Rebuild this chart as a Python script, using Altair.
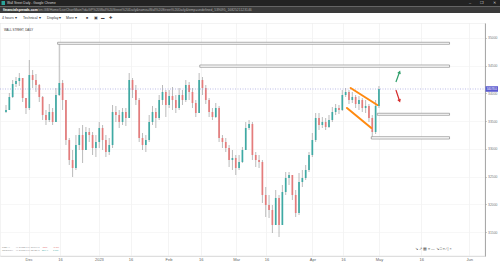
import altair as alt
import pandas as pd

# ---- data (Wall Street, daily candles) ----
first_open = 33664
close = [33700,33934,34168,34222,34276,33916,33736,34330,34240,34150,
         33934,33610,33520,33664,33484,33970,34186,33880,33160,32800,
         32656,33070,33250,32980,33304,33250,33016,33124,33376,33160,
         32944,33070,33664,33610,33484,33664,33556,34240,34060,33880,
         33196,33070,33160,33484,33664,33556,33880,34024,33790,33952,
         33880,33736,33970,33880,34150,34024,33826,33646,34240,34096,
         33880,33664,33574,33736,33196,33124,33016,32800,32836,32656,
         32764,32980,33376,33448,32890,32800,32764,32170,31990,31900,
         31630,32116,31630,32224,32476,32530,32170,31846,32404,32476,
         32620,32890,33160,33556,33430,33484,33394,33520,33664,33736,
         33700,33970,34024,33880,33934,33808,33880,33736,33772,33556,
         33304,33772,34078]
high = [33790,34006,34240,34294,34366,34240,33916,34600,34420,34348,
        34168,33952,33700,33808,33736,34096,34906,34240,33880,33196,
        32980,33250,33376,33430,33394,33376,33304,33250,33484,33430,
        33250,33196,33790,33772,33700,33736,33736,34366,34276,34150,
        33916,33286,33250,33610,33772,33736,33970,34150,34060,34060,
        34114,33970,34096,34060,34240,34204,34096,33880,34366,34294,
        34150,33916,33736,33826,33772,33250,33196,33070,32980,32890,
        32890,33034,33484,33520,33484,32944,32890,32800,32314,32170,
        31990,32260,32170,32350,32584,32584,32530,32260,32566,32620,
        32710,32944,33286,33646,33646,33574,33556,33610,33754,33808,
        33790,34060,34096,34060,34024,33970,33952,33916,33880,33808,
        33610,33880,34132]
low = [33646,33736,33916,34114,34132,33844,33628,33700,34096,34024,
       33844,33520,33430,33484,33430,33484,33952,33700,33070,32710,
       32494,32620,32980,32746,32980,33124,32890,32854,33016,32980,
       32854,32890,33016,33484,33376,33430,33412,33556,33916,33790,
       33124,32980,32944,33124,33430,33376,33520,33790,33574,33736,
       33700,33646,33700,33790,33844,33880,33736,33574,33664,33970,
       33808,33574,33520,33556,33124,33016,32944,32674,32620,32530,
       32620,32746,32980,33340,32800,32674,32656,32026,31774,31756,
       31486,31630,31414,31630,32170,32350,32080,31774,31810,32314,
       32440,32584,32854,33124,33340,33376,33340,33376,33484,33610,
       33628,33682,33934,33808,33826,33736,33700,33664,33646,33484,
       33196,33268,33736]

tick_pos = [6.8, 16.2, 27.9, 37.4, 48.8, 58.5, 69.1, 78.2, 92, 101.2, 112, 124.7, 139.1]
tick_labels = ["Dec", "16", "2023", "16", "Feb", "16", "Mar", "16", "Apr", "16", "May", "16", "Jun"]
price_ticks = [31500, 32000, 32500, 33000, 33500, 34000, 34500, 35000]

# support / resistance zones
zone_start = [15.5, 58.2, 111.5, 109.7]
zone_end = [133.2, 133.2, 133.2, 133.2]
zone_top = [34919, 34510, 33641, 33219]
zone_bot = [34883, 34469, 33605, 33178]

# flag channel lines
flag_i1 = [103.5, 102.4]
flag_i2 = [111.5, 109.7]
flag_p1 = [34096, 33736]
flag_p2 = [33790, 33376]

# scenario arrows
arr_i1 = [117.1, 117.1]
arr_i2 = [118.2, 118.2]
arr_p1 = [34204, 34060]
arr_p2 = [34384, 33862]
arr_col = ["#2f9e6a", "#d42a2a"]
arr_shape = ["triangle-up", "triangle-down"]
arr_angle = [20, 340]

last_price = 34078

# ---- build tables ----
opens = [first_open] + close[:-1]
rows = []
for k, (o, c, h, l) in enumerate(zip(opens, close, high, low)):
    rows.append({"i": k, "i2": k, "p": min(l, o, c), "p2": max(h, o, c), "o": o, "c": c,
                 "dir": "up" if c >= o else "down"})
candles = pd.DataFrame(rows)

zones = pd.DataFrame({"i": zone_start, "i2": zone_end, "p": zone_top, "p2": zone_bot})
flags = pd.DataFrame({"i": flag_i1, "i2": flag_i2, "p": flag_p1, "p2": flag_p2})
arrows = pd.DataFrame({"i": arr_i1, "i2": arr_i2, "p": arr_p1, "p2": arr_p2,
                       "col": arr_col, "shape": arr_shape, "ang": arr_angle})
last_df = pd.DataFrame({"p": [last_price], "lo": [last_price - 50], "hi": [last_price + 50],
                        "txt": [f"{last_price}.0"]})
one = pd.DataFrame({"a": [0]})

W, H = 485, 233
FONT = "Liberation Sans"
xs = alt.Scale(domain=[-0.3, 142.35], nice=False, zero=False)
ys = alt.Scale(domain=[31072, 35266], nice=False, zero=False)

label_expr = ("[" + ",".join(f"'{t}'" for t in tick_labels) + "][indexof(["
              + ",".join(str(v) for v in tick_pos) + "], datum.value)]")

x_axis = alt.Axis(values=tick_pos, labelExpr=label_expr, grid=True, gridColor="#ececec",
                  gridWidth=0.6, tickSize=0, labelFontSize=4, labelColor="#666",
                  labelPadding=1, domainColor="#d0d0d0", domainWidth=0.6, title=None,
                  labelFlush=False, labelOverlap=False, labelFont=FONT)
y_axis = alt.Axis(orient="right", values=price_ticks, format="d", grid=True,
                  gridColor="#f1f1f1", gridWidth=0.6, tickSize=1.5, tickColor="#999",
                  tickWidth=0.5, labelFontSize=3.4, labelColor="#777", labelPadding=1,
                  domainColor="#888", domainWidth=0.7, title=None, labelFont=FONT)


def X(field):
    return alt.X(field, type="quantitative", scale=xs, axis=x_axis)


def Y(field):
    return alt.Y(field, type="quantitative", scale=ys, axis=y_axis)


col_scale = alt.Scale(domain=["up", "down"], range=["#3eaaa4", "#e57c7c"])

wicks = alt.Chart(candles).mark_rule(color="#777", strokeWidth=0.5).encode(
    x=X("i"), y=Y("p"), y2="p2")
bodies = alt.Chart(candles).mark_bar(size=1.7).encode(
    x=X("i"), y=Y("o"), y2="c",
    color=alt.Color("dir:N", scale=col_scale, legend=None))

last_line = alt.Chart(last_df).mark_rule(color="#8f8fd6", strokeDash=[1, 1.5], strokeWidth=0.6).encode(
    x=alt.value(0), x2=alt.value(W), y=Y("p"))

zone_rects = alt.Chart(zones).mark_rect(fill="white", stroke="#8a8a8a", strokeWidth=0.7).encode(
    x=X("i"), x2="i2", y=Y("p"), y2="p2")

flag_lines = alt.Chart(flags).mark_rule(color="#ff8a10", strokeWidth=2, strokeCap="round").encode(
    x=X("i"), x2="i2", y=Y("p"), y2="p2")

arrow_shafts = alt.Chart(arrows).mark_rule(strokeWidth=1.2).encode(
    x=X("i"), x2="i2", y=Y("p"), y2="p2",
    color=alt.Color("col:N", scale=None))
arrow_heads = alt.Chart(arrows).mark_point(filled=True, size=14, opacity=1).encode(
    x=X("i2"), y=Y("p2"),
    color=alt.Color("col:N", scale=None),
    shape=alt.Shape("shape:N", scale=None),
    angle=alt.Angle("ang:Q", scale=None))

price_box = alt.Chart(last_df).mark_rect(fill="#5a5ad0").encode(
    x=alt.value(W + 0.5), x2=alt.value(W + 13), y=Y("lo"), y2="hi")
price_txt = alt.Chart(last_df).mark_text(fontSize=2.8, color="white", font=FONT).encode(
    x=alt.value(W + 6.8), y=Y("p"), text="txt:N")


# ---- page chrome (browser window, toolbar, captions) ----
def box(x1, x2, y1, y2, color):
    return alt.Chart(one).mark_rect(color=color).encode(
        x=alt.value(x1), x2=alt.value(x2), y=alt.value(y1), y2=alt.value(y2))


def label(txt, x, y, size=3.5, color="#333", align="left", weight="normal"):
    return alt.Chart(one).mark_text(text=txt, fontSize=size, color=color, align=align,
                                    baseline="middle", font=FONT, fontWeight=weight).encode(
        x=alt.value(x), y=alt.value(y))


chrome = [
    box(0, 500, -23, -16.5, "#232323"),
    box(0, 500, -16.5, -10, "#3a3a3a"),
    box(0, 500, -10, 0, "#ffffff"),
    box(1.5, 5, -22, -18, "#2aa39a"),
    label("Wall Street Daily - Google Chrome", 7, -20, 3.2, "#d8d8d8"),
    label("\u2013", 470, -20, 4, "#cccccc", "center"),
    label("\u2750", 482, -20, 3.5, "#cccccc", "center"),
    label("\u2715", 494, -20, 3.5, "#cccccc", "center"),
    label("financialspreads.com", 3, -13.3, 3.4, "#ffffff", weight="bold"),
    label("/en-GB/Home/LiveChartMain?id=GP%20Wall%20Street%20Daily&name=Wall%20Street%20Daily&temp=undefined_539095_1682521123146",
          38, -13.3, 3.4, "#aaaaaa"),
    label("4 hours \u25be", 2, -5.3, 3.5),
    label("Technical \u25be", 23, -5.3, 3.5),
    label("Display \u25be", 47, -5.3, 3.5),
    label("More \u25be", 66, -5.3, 3.5),
    label("\u25a0", 86, -5.3, 3.5, "#444"),
    label("\u25a3", 94, -5.3, 3.8, "#444"),
    label("\u25ac", 101, -5.3, 3.5, "#444"),
    label("\u271a", 109, -5.3, 3.8, "#444"),
    label("WALL STREET, DAILY", 4, 7, 2.9, "#333"),
    label("TODAY", 2, 224, 2.4, "#888"),
    label("H: 34131.0   L: 34044.0", 16, 224, 2.4, "#888"),
    label("-13.0", 42, 224, 2.4, "#e06060"),
    label("-0.0%", 53, 224, 2.4, "#e06060"),
    label("GROWTH", 2, 227.5, 2.4, "#888"),
    label("H: 34081.0   L: 31429.0", 16, 227.5, 2.4, "#888"),
    label("564.4", 42, 227.5, 2.4, "#2a9d9a"),
    label("1.7%", 53, 227.5, 2.4, "#2a9d9a"),
    label("\u2198 \u2197 \u25a6 \u2261 \u2014 \u2198 \u25a1 \u2261 \u2215 | \u00d7", 415, 226, 3.6, "#555"),
]

chart = alt.layer(
    wicks, bodies, last_line, zone_rects, flag_lines, arrow_shafts, arrow_heads,
    price_box, price_txt, *chrome
).properties(
    width=W, height=H,
    autosize=alt.AutoSizeParams(type="none"),
    padding={"top": 23, "left": 0, "right": 15, "bottom": 6},
    background="white",
).configure_view(stroke="#dcdcdc", strokeWidth=0.6)

chart.save("out.html", embed_options={"renderer": "svg", "actions": False})
